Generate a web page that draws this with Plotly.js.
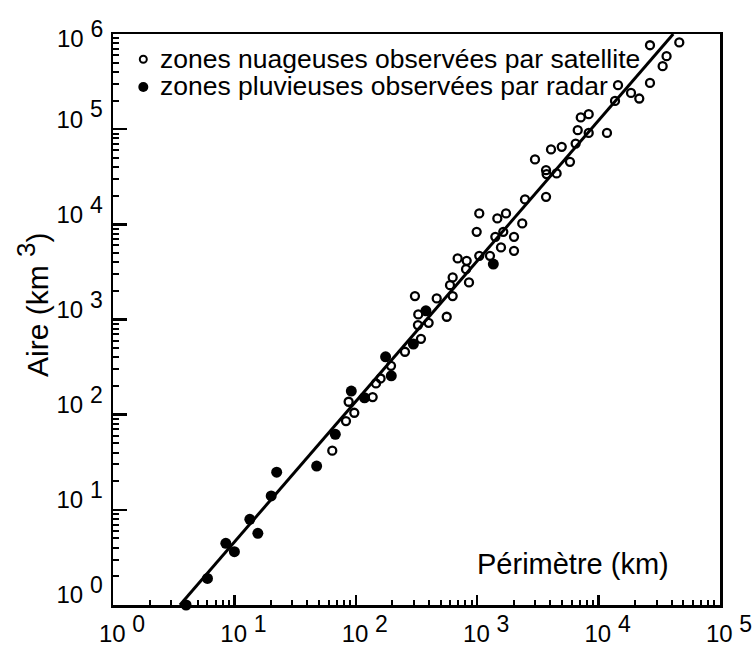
<!DOCTYPE html>
<html>
<head>
<meta charset="utf-8">
<script src="https://cdn.plot.ly/plotly-3.0.1.min.js"></script>
<style>
  html, body { margin: 0; padding: 0; background: #ffffff; }
  #chart { width: 755px; height: 649px; }
</style>
</head>
<body>
<div id="chart"></div>
<script>
// Cloud zones seen by satellite: perimeter (km) and area (km²)
const satPerimeter = [64, 83, 97.2, 87.3, 137.7, 146.7, 160, 195, 254, 344,
  325, 398, 561, 327, 307, 464, 628, 597, 628, 856,
  809, 690, 819, 1040, 1274, 990, 1040, 1410, 1570, 1640,
  1465, 1727, 2010, 2010, 2350, 2476, 3690, 2993, 3690, 3730,
  4510, 4055, 4970, 5810, 6470, 6730, 7130, 8290, 8290, 11720,
  13650, 14450, 18490, 21630, 26500, 33700, 26500, 46200, 36300];
const satArea = [41.8, 85.7, 104.7, 136.7, 153, 213, 240, 326, 458, 627,
  873, 923, 1069, 1131, 1762, 1666, 1762, 2297, 2767, 2455,
  3380, 4382, 4140, 4670, 4670, 8340, 13030, 7390, 5720, 8340,
  11530, 13030, 7390, 5270, 10230, 18270, 19450, 48070, 37070, 33700,
  34260, 61230, 65200, 45390, 70640, 97700, 132700, 143800, 91400, 91400,
  198200, 289900, 240500, 209900, 306400, 459000, 762000, 815000, 584600];

// Rain zones seen by radar
const radarPerimeter = [4.0, 6.0, 8.5, 10.0, 13.4, 15.6, 20.1, 22.3, 47.6,
  67.8, 91.8, 118, 176, 196, 298, 378, 1358];
const radarArea = [1.0, 1.9, 4.45, 3.63, 7.95, 5.66, 14.0, 24.9, 28.8,
  62.1, 177, 150.6, 405, 256, 552, 1234, 3820];

// Power-law fit A ∝ P^1.48, end points
const fitPerimeter = [3.56, 41200];
const fitArea = [1, 1e6];

// Axis ticks (the top y label sits just under the frame, drawn separately)
const xTickVals = [1, 10, 100, 1e3, 1e4, 1e5];
const xTickExp = ['0', '1', '2', '3', '4', '5'];
const yTickVals = [1, 10, 100, 1e3, 1e4, 1e5, 1e6];
const yTickExp = ['0', '1', '2', '3', '4', '5', ''];
const yTopExp = '6';

// Legend labels
const legendLabels = ['zones nuageuses observées par satellite',
                      'zones pluvieuses observées par radar'];

const FONT = 'Liberation Sans, Arial, Helvetica, sans-serif';

function powLabel(e) {
  if (e === '') return '';
  return '10 <sup><span style="font-size:23px">' + e + '</span></sup>';
}
function minorTicks(nDec) {
  const out = [];
  for (let d = 0; d < nDec; d++) {
    for (let k = 2; k <= 9; k++) out.push(k * Math.pow(10, d));
  }
  return out;
}

const traces = [
  {
    x: fitPerimeter, y: fitArea, type: 'scatter', mode: 'lines',
    line: { color: '#000', width: 3 }, showlegend: false, hoverinfo: 'skip'
  },
  {
    x: satPerimeter, y: satArea, type: 'scatter', mode: 'markers',
    name: legendLabels[0], cliponaxis: false,
    marker: { symbol: 'circle-open', size: 8, color: '#000', line: { width: 2.3, color: '#000' } }
  },
  {
    x: radarPerimeter, y: radarArea, type: 'scatter', mode: 'markers',
    name: legendLabels[1], cliponaxis: false,
    marker: { symbol: 'circle', size: 11, color: '#000' }
  }
];

// pixel helpers for the plot frame (607 x 571 px)
const PW = 607, PH = 571, L = 113, T = 34;
const px = v => (v - L) / PW;
const py = v => (T + PH - v) / PH;

const layout = {
  width: 755, height: 649,
  margin: { l: L, r: 35, t: T, b: 44 },
  paper_bgcolor: '#fff', plot_bgcolor: '#fff',
  showlegend: false,
  font: { family: FONT, size: 24, color: '#000' },
  xaxis: {
    type: 'log', range: [0, 5],
    tickmode: 'array', tickvals: xTickVals, ticktext: xTickExp.map(powLabel),
    ticks: 'inside', ticklen: 10, tickwidth: 2.5, tickcolor: '#000',
    showline: true, linewidth: 2.5, linecolor: '#000', mirror: true,
    showgrid: false, zeroline: false,
    ticklabelshift: 9, ticklabelstandoff: 6,
    tickfont: { family: FONT, size: 24, color: '#000' },
    minor: { tickmode: 'array', tickvals: minorTicks(5), ticks: 'inside',
             ticklen: 5, tickwidth: 2, tickcolor: '#000', showgrid: false }
  },
  yaxis: {
    type: 'log', range: [0, 6],
    tickmode: 'array', tickvals: yTickVals, ticktext: yTickExp.map(powLabel),
    ticks: 'inside', ticklen: 14, tickwidth: 2.5, tickcolor: '#000',
    showline: true, linewidth: 2.5, linecolor: '#000', mirror: true,
    showgrid: false, zeroline: false,
    ticklabelshift: -10, ticklabelstandoff: 3,
    tickfont: { family: FONT, size: 24, color: '#000' },
    minor: { tickmode: 'array', tickvals: minorTicks(6), ticks: 'inside',
             ticklen: 6, tickwidth: 2, tickcolor: '#000', showgrid: false }
  },
  shapes: [
    { type: 'circle', xref: 'paper', yref: 'paper', xsizemode: 'pixel', ysizemode: 'pixel',
      xanchor: px(143.3), yanchor: py(59.3), x0: -3.5, x1: 3.5, y0: -3.5, y1: 3.5,
      line: { color: '#000', width: 2 }, fillcolor: 'rgba(0,0,0,0)' },
    { type: 'circle', xref: 'paper', yref: 'paper', xsizemode: 'pixel', ysizemode: 'pixel',
      xanchor: px(143.3), yanchor: py(87), x0: -5, x1: 5, y0: -5, y1: 5,
      line: { color: '#000', width: 0 }, fillcolor: '#000' }
  ],
  annotations: [
    { text: powLabel(yTopExp), xref: 'paper', yref: 'paper', x: px(104), y: py(34),
      xanchor: 'right', yanchor: 'middle', showarrow: false, borderpad: 0,
      font: { family: FONT, size: 24, color: '#000' } },
    { text: legendLabels[0], xref: 'paper', yref: 'paper', x: px(158), y: py(59),
      xanchor: 'left', yanchor: 'middle', showarrow: false,
      font: { family: FONT, size: 26.5, color: '#000' } },
    { text: legendLabels[1], xref: 'paper', yref: 'paper', x: px(158), y: py(86.5),
      xanchor: 'left', yanchor: 'middle', showarrow: false,
      font: { family: FONT, size: 26.5, color: '#000' } },
    { text: 'Périmètre (km)', xref: 'paper', yref: 'paper', x: px(572.5), y: py(564),
      xanchor: 'center', yanchor: 'middle', showarrow: false,
      font: { family: FONT, size: 29, color: '#000' } },
    { text: 'Aire (km <sup><span style="font-size:26px">3</span></sup>)', xref: 'paper', yref: 'paper',
      x: px(32), y: py(305),
      xanchor: 'center', yanchor: 'middle', textangle: -90, showarrow: false,
      font: { family: FONT, size: 30, color: '#000' } }
  ]
};

Plotly.newPlot('chart', traces, layout, { staticPlot: true, displayModeBar: false });
</script>
</body>
</html>
